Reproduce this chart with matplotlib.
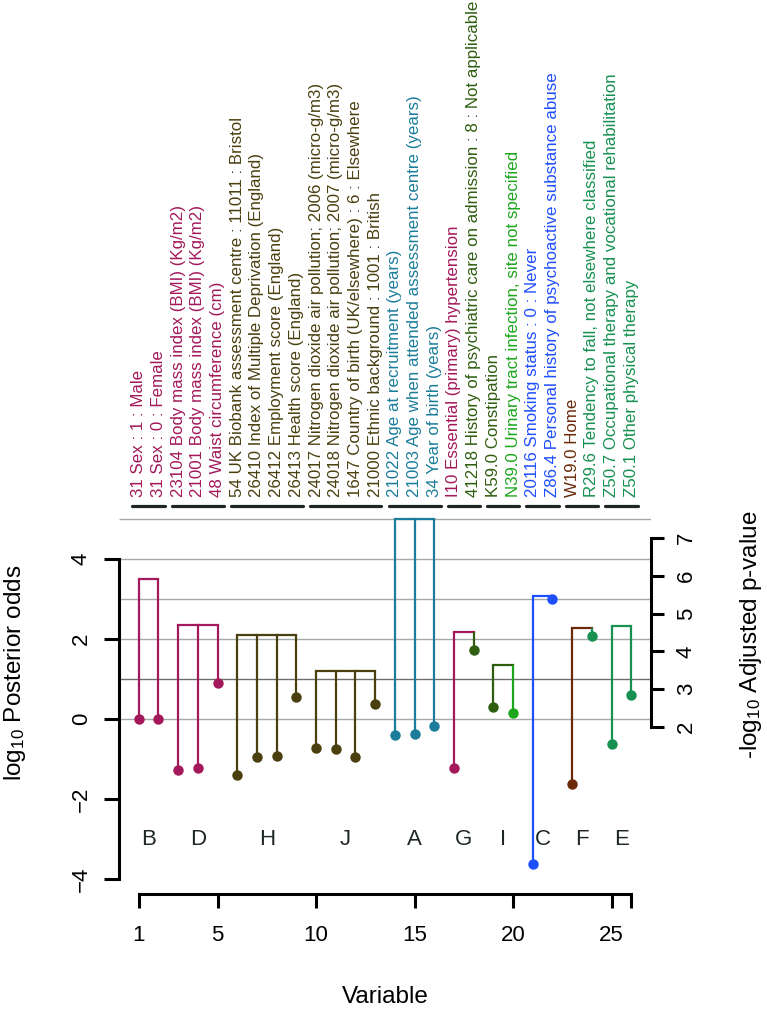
import matplotlib
matplotlib.use("Agg")
import matplotlib.pyplot as plt

plt.rcParams['font.family'] = ['Liberation Sans', 'DejaVu Sans']
plt.rcParams['mathtext.fontset'] = 'custom'
plt.rcParams['mathtext.rm'] = 'Liberation Sans'
plt.rcParams['mathtext.it'] = 'Liberation Sans'

# ---------------- data ----------------
var_labels = [
    "31 Sex : 1 : Male",
    "31 Sex : 0 : Female",
    "23104 Body mass index (BMI) (Kg/m2)",
    "21001 Body mass index (BMI) (Kg/m2)",
    "48 Waist circumference (cm)",
    "54 UK Biobank assessment centre : 11011 : Bristol",
    "26410 Index of Multiple Deprivation (England)",
    "26412 Employment score (England)",
    "26413 Health score (England)",
    "24017 Nitrogen dioxide air pollution; 2006 (micro-g/m3)",
    "24018 Nitrogen dioxide air pollution; 2007 (micro-g/m3)",
    "1647 Country of birth (UK/elsewhere) : 6 : Elsewhere",
    "21000 Ethnic background : 1001 : British",
    "21022 Age at recruitment (years)",
    "21003 Age when attended assessment centre (years)",
    "34 Year of birth (years)",
    "I10 Essential (primary) hypertension",
    "41218 History of psychiatric care on admission : 8 : Not applicable",
    "K59.0 Constipation",
    "N39.0 Urinary tract infection, site not specified",
    "20116 Smoking status : 0 : Never",
    "Z86.4 Personal history of psychoactive substance abuse",
    "W19.0 Home",
    "R29.6 Tendency to fall, not elsewhere classified",
    "Z50.7 Occupational therapy and vocational rehabilitation",
    "Z50.1 Other physical therapy",
]
variables = list(range(1, 27))
log_post_odds = [0.0, 0.0, -1.27, -1.22, 0.90,
                 -1.40, -0.95, -0.92, 0.55,
                 -0.73, -0.75, -0.96, 0.37,
                 -0.40, -0.37, -0.17,
                 -1.22, 1.72,
                 0.30, 0.15,
                 -3.63, 3.00,
                 -1.63, 2.08,
                 -0.63, 0.60]
var_group = ['B', 'B', 'D', 'D', 'D', 'H', 'H', 'H', 'H', 'J', 'J', 'J', 'J',
             'A', 'A', 'A', 'G', 'G', 'I', 'I', 'C', 'C', 'F', 'F', 'E', 'E']
group_names = ['B', 'D', 'H', 'J', 'A', 'G', 'I', 'C', 'F', 'E']
group_odds = [3.50, 2.35, 2.10, 1.20, 5.00, 2.17, 1.35, 3.07, 2.28, 2.33]

MAG = '#A3195B'
OLV = '#4A3F0F'
TEA = '#1B7D9B'
DGR = '#2F5E10'
BGR = '#1CA61C'
BLU = '#1F4EFF'
BRN = '#6B2A0A'
MGR = '#179050'
var_colors = [MAG] * 5 + [OLV] * 8 + [TEA] * 3 + [MAG, DGR, DGR, BGR, BLU, BLU, BRN, MGR, MGR, MGR]

DARK = '#1E2626'

# ---------------- figure ----------------
W, H = 767, 1013
fig = plt.figure(figsize=(W / 100, H / 100), dpi=100)
ylo, yhi = -4.6, 5.6
px_top = 719 - yhi * 40
px_bot = 719 - ylo * 40
ax = fig.add_axes([119 / W, (H - px_bot) / H, 532 / W, (px_bot - px_top) / H])
ax.set_xlim(0, 27)
ax.set_ylim(ylo, yhi)
ax.patch.set_alpha(0)

# grid lines
ax.hlines([0, 2, 3, 4, 5], 0, 27, color='#A3AAAA', lw=1.0, zorder=0)
ax.hlines([1], 0, 27, color='#6E6E6E', lw=1.0, zorder=0)

# stems / brackets
for g, top in zip(group_names, group_odds):
    idx = [i for i, v in enumerate(var_group) if v == g]
    for k, i in enumerate(idx):
        x = variables[i]
        ax.plot([x, x], [log_post_odds[i], top], color=var_colors[i], lw=1.6,
                solid_capstyle='butt', zorder=2)
        if k < len(idx) - 1:
            xn = variables[idx[k + 1]]
            ax.plot([x, xn], [top, top], color=var_colors[i], lw=1.6,
                    solid_capstyle='projecting', zorder=2)
        ax.plot([x], [log_post_odds[i]], 'o', color=var_colors[i], ms=7.5,
                mec='none', zorder=3)
    # group letter and underline
    xs = [variables[i] for i in idx]
    ax.text((xs[0] + xs[-1]) / 2, -3.0, g, ha='center', va='center',
            fontsize=16, color=DARK)
    ax.plot([xs[0] - 0.32, xs[-1] + 0.32], [5.325, 5.325], color=DARK,
            lw=2.3, solid_capstyle='round', clip_on=False)

# variable labels
for i, lab in enumerate(var_labels):
    ax.text(variables[i], 5.55, lab, rotation=90, ha='center', va='bottom',
            fontsize=12.2, color=var_colors[i], clip_on=False)

# axes
for s in ['top', 'right']:
    ax.spines[s].set_visible(False)
ax.spines['left'].set_bounds(-4, 4)
ax.spines['left'].set_linewidth(2.2)
ax.spines['bottom'].set_position(('data', -4.375))
ax.spines['bottom'].set_bounds(1, 26)
ax.spines['bottom'].set_linewidth(2.2)
ax.set_yticks([-4, -2, 0, 2, 4])
ax.set_xticks([1, 5, 10, 15, 20, 25, 26])
ax.set_xticklabels(['1', '5', '10', '15', '20', '25', ''])
ax.tick_params(axis='y', direction='out', length=10.5, width=2.2, labelsize=16,
               pad=9, labelrotation=90)
ax.tick_params(axis='x', direction='out', length=10, width=2.2, labelsize=16, pad=12)
for t in ax.get_yticklabels():
    t.set_va('center')

# right axis (-log10 adjusted p-value)
ax2 = ax.twinx()
def L2R(v):
    return 2 + (v + 0.2) / 0.945
ax2.set_ylim(L2R(ylo), L2R(yhi))
for s in ['top', 'left', 'bottom']:
    ax2.spines[s].set_visible(False)
ax2.spines['right'].set_bounds(2, 7)
ax2.spines['right'].set_linewidth(2.2)
ax2.set_yticks([2, 3, 4, 5, 6, 7])
ax2.tick_params(axis='y', direction='out', length=9, width=2.2, labelsize=16,
                pad=9, labelrotation=90)
for t in ax2.get_yticklabels():
    t.set_va('center')

# axis titles
fig.text(15 / W, 1 - 673 / H, r"log$_{10}$ Posterior odds", rotation=90,
         ha='center', va='center', fontsize=17.5)
fig.text(751 / W, 1 - 635 / H, r"-log$_{10}$ Adjusted p-value", rotation=90,
         ha='center', va='center', fontsize=17.5)
fig.text(385 / W, 1 - 997 / H, "Variable", ha='center', va='center', fontsize=17.5)

fig.savefig("out.png", dpi=100)
